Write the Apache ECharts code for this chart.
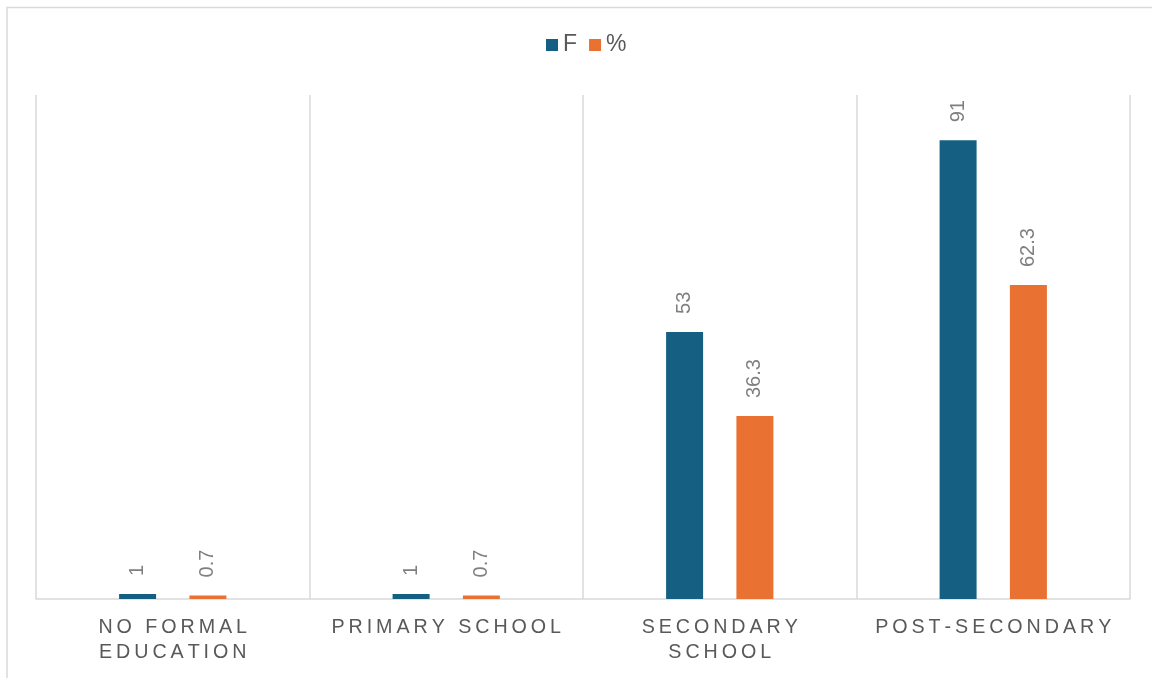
<!DOCTYPE html>
<html>
<head>
<meta charset="utf-8">
<script src="https://cdn.jsdelivr.net/npm/echarts@6/dist/echarts.min.js"></script>
<style>
html,body{margin:0;padding:0;background:#fff;}
#c{width:1152px;height:678px;}
</style>
</head>
<body>
<div id="c"></div>
<script>
const categories = ['NO FORMAL\nEDUCATION', 'PRIMARY SCHOOL', 'SECONDARY\nSCHOOL', 'POST-SECONDARY'];
const seriesNames = ['F', '%'];
const valuesF = [1, 1, 53, 91];
const valuesPct = [0.7, 0.7, 36.3, 62.3];

const SP = '\u2009';
function spaced(s) {
  return s.split('\n').map(l => Array.from(l).join(SP)).join('\n');
}

const chart = echarts.init(document.getElementById('c'), null, {renderer: 'canvas'});
const FONT = 'Liberation Sans, Arial, sans-serif';
const labelCfg = {
  show: true,
  position: 'top',
  rotate: 90,
  align: 'left',
  verticalAlign: 'middle',
  distance: 18,
  color: '#7f7f7f',
  fontSize: 20,
  fontFamily: FONT
};
chart.setOption({
  animation: false,
  backgroundColor: '#fff',
  graphic: [{
    type: 'rect',
    shape: {x: 7, y: 7.5, width: 1160, height: 700},
    style: {fill: 'none', stroke: '#d9d9d9', lineWidth: 1.5},
    silent: true
  }],
  legend: {
    data: seriesNames,
    top: 28.5,
    left: 541,
    icon: 'rect',
    itemWidth: 12,
    itemHeight: 12,
    itemGap: 12,
    textStyle: {color: '#595959', fontSize: 23, fontFamily: FONT}
  },
  grid: {left: 36, right: 22, top: 95, bottom: 79, containLabel: false},
  xAxis: {
    type: 'category',
    data: categories,
    boundaryGap: true,
    axisTick: {show: false},
    axisLine: {show: true, lineStyle: {color: '#d9d9d9', width: 1.5}},
    splitLine: {show: true, lineStyle: {color: '#d9d9d9', width: 1.5}},
    axisLabel: {
      interval: 0,
      margin: 16,
      color: '#595959',
      fontSize: 19.7,
      lineHeight: 25,
      fontFamily: FONT,
      formatter: v => spaced(v)
    }
  },
  yAxis: {
    type: 'value',
    min: 0,
    max: 100,
    show: false,
    splitLine: {show: false}
  },
  series: [
    {
      name: seriesNames[0],
      type: 'bar',
      data: valuesF,
      barWidth: 37,
      barGap: '90%',
      itemStyle: {color: '#156082'},
      label: labelCfg
    },
    {
      name: seriesNames[1],
      type: 'bar',
      data: valuesPct,
      barWidth: 37,
      itemStyle: {color: '#E97132'},
      label: labelCfg
    }
  ]
});
</script>
</body>
</html>
